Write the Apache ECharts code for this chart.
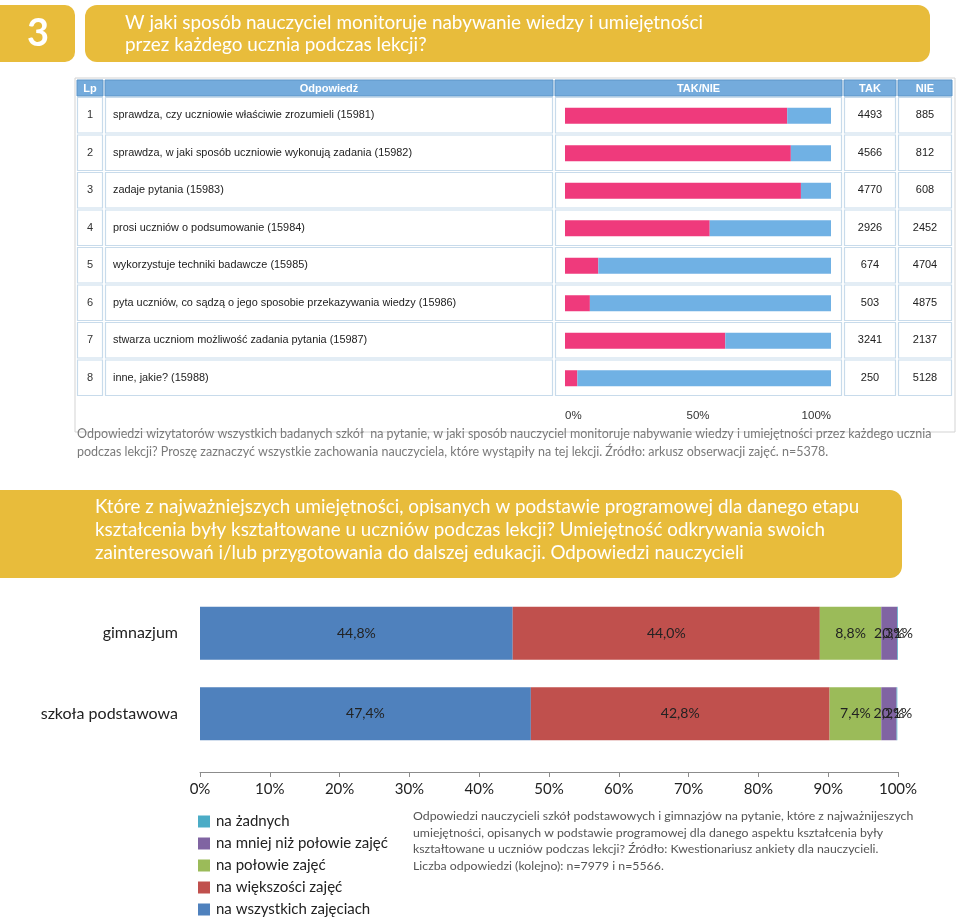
<!DOCTYPE html>
<html>
<head>
<meta charset="utf-8">
<script src="https://cdn.jsdelivr.net/npm/echarts@6/dist/echarts.min.js"></script>
<style>html,body{margin:0;padding:0;background:#fff;}#c{width:960px;height:919px;}</style>
</head>
<body>
<div id="c"></div>
<script>
// ---- data: table (top) ----
const rowNumbers = ['1','2','3','4','5','6','7','8'];
const rowLabels = [
  'sprawdza, czy uczniowie właściwie zrozumieli (15981)',
  'sprawdza, w jaki sposób uczniowie wykonują zadania (15982)',
  'zadaje pytania (15983)',
  'prosi uczniów o podsumowanie (15984)',
  'wykorzystuje techniki badawcze (15985)',
  'pyta uczniów, co sądzą o jego sposobie przekazywania wiedzy (15986)',
  'stwarza uczniom możliwość zadania pytania (15987)',
  'inne, jakie? (15988)'
];
const takValues = [4493, 4566, 4770, 2926, 674, 503, 3241, 250];
const nieValues = [885, 812, 608, 2452, 4704, 4875, 2137, 5128];
const takNieTicks = ['0%', '50%', '100%'];

// ---- data: stacked bar (bottom) ----
const schoolCategories = ['gimnazjum', 'szkoła podstawowa'];
const answerNames = ['na wszystkich zajęciach', 'na większości zajęć', 'na połowie zajęć', 'na mniej niż połowie zajęć', 'na żadnych'];
const gimnazjumValues = [44.8, 44.0, 8.8, 2.3, 0.1];
const podstawowaValues = [47.4, 42.8, 7.4, 2.2, 0.1];
const percentTicks = ['0%', '10%', '20%', '30%', '40%', '50%', '60%', '70%', '80%', '90%', '100%'];

const answerColors = ['#4f81bd', '#c0504d', '#9bbb59', '#8064a2', '#4bacc6'];
const YELLOW = '#e8bc3b';
const SANS = "Lato, 'Open Sans', sans-serif";
const TBL = "'Liberation Sans', Arial, sans-serif";

const chart = echarts.init(document.getElementById('c'), null, {renderer: 'canvas'});

// ---- table frame built as graphics ----
const g = [];
// header banner 1
g.push({type: 'rect', shape: {x: -12, y: 5, width: 87, height: 57, r: 10}, style: {fill: YELLOW}, z: 0});
g.push({type: 'text', style: {x: 38, y: 34, text: '3', fill: '#fff', font: 'bold 38px ' + SANS, textAlign: 'center', textVerticalAlign: 'middle'}, z: 1});
g.push({type: 'rect', shape: {x: 85, y: 5, width: 845, height: 57, r: 12}, style: {fill: YELLOW}, z: 0});
g.push({type: 'text', style: {x: 125, y: 34, text: 'W jaki sposób nauczyciel monitoruje nabywanie wiedzy i umiejętności\nprzez każdego ucznia podczas lekcji?', fill: '#fff', font: '18.9px ' + SANS, lineHeight: 22, textVerticalAlign: 'middle'}, z: 1});

// table outer frame
g.push({type: 'rect', shape: {x: 75, y: 78, width: 880, height: 354}, style: {fill: '#fff', stroke: '#d3d3d3', lineWidth: 1}, z: 0});
const cols = [
  {x: 77, w: 26, title: 'Lp'},
  {x: 105, w: 448, title: 'Odpowiedź'},
  {x: 555, w: 287, title: 'TAK/NIE'},
  {x: 844, w: 52, title: 'TAK'},
  {x: 898, w: 54, title: 'NIE'}
];
cols.forEach(c => {
  g.push({type: 'rect', shape: {x: c.x, y: 80, width: c.w, height: 16}, style: {fill: '#74abdc', stroke: '#5c95c8', lineWidth: 1}, z: 1});
  g.push({type: 'text', style: {x: c.x + c.w / 2, y: 88.5, text: c.title, fill: '#fff', font: 'bold 11px ' + TBL, textAlign: 'center', textVerticalAlign: 'middle'}, z: 2});
});
const ROW0 = 97, ROWH = 37.5;
rowNumbers.forEach((n, i) => {
  const y = ROW0 + i * ROWH;
  cols.forEach(c => {
    g.push({type: 'rect', shape: {x: c.x + 0.5, y: y + 0.5, width: c.w - 1, height: ROWH - 2}, style: {fill: '#fff', stroke: '#c8dbeb', lineWidth: 1.2}, z: 1});
  });
  const cy = y + ROWH / 2 - 0.5;
  g.push({type: 'text', style: {x: 90, y: cy, text: n, fill: '#333', font: '11px ' + TBL, textAlign: 'center', textVerticalAlign: 'middle'}, z: 2});
  g.push({type: 'text', style: {x: 113, y: cy, text: rowLabels[i], fill: '#222', font: '10.9px ' + TBL, textVerticalAlign: 'middle'}, z: 2});
  g.push({type: 'text', style: {x: 870, y: cy, text: String(takValues[i]), fill: '#222', font: '11px ' + TBL, textAlign: 'center', textVerticalAlign: 'middle'}, z: 2});
  g.push({type: 'text', style: {x: 925, y: cy, text: String(nieValues[i]), fill: '#222', font: '11px ' + TBL, textAlign: 'center', textVerticalAlign: 'middle'}, z: 2});
});

// caption 1
g.push({type: 'text', style: {x: 77, y: 443, text: 'Odpowiedzi wizytatorów wszystkich badanych szkół  na pytanie, w jaki sposób nauczyciel monitoruje nabywanie wiedzy i umiejętności przez każdego ucznia\npodczas lekcji? Proszę zaznaczyć wszystkie zachowania nauczyciela, które wystąpiły na tej lekcji. Źródło: arkusz obserwacji zajęć. n=5378.', fill: '#7a7a7a', font: '12.5px ' + SANS, lineHeight: 18, textVerticalAlign: 'middle'}, z: 1});

// header banner 2
g.push({type: 'rect', shape: {x: -12, y: 490, width: 914, height: 88, r: 12}, style: {fill: YELLOW}, z: 0});
g.push({type: 'text', style: {x: 95, y: 530, text: 'Które z najważniejszych umiejętności, opisanych w podstawie programowej dla danego etapu\nkształcenia były kształtowane u uczniów podczas lekcji? Umiejętność odkrywania swoich\nzainteresowań i/lub przygotowania do dalszej edukacji. Odpowiedzi nauczycieli', fill: '#fff', font: '18.8px ' + SANS, lineHeight: 23, textVerticalAlign: 'middle'}, z: 1});

// caption 2
g.push({type: 'text', style: {x: 413, y: 841, text: 'Odpowiedzi nauczycieli szkół podstawowych i gimnazjów na pytanie, które z najważnijeszych\numiejętności, opisanych w podstawie programowej dla danego aspektu kształcenia były\nkształtowane u uczniów podczas lekcji? Źródło: Kwestionariusz ankiety dla nauczycieli.\nLiczba odpowiedzi (kolejno): n=7979 i n=5566.', fill: '#555', font: '12.3px ' + SANS, lineHeight: 16.5, textVerticalAlign: 'middle'}, z: 1});

const takShare = takValues.map((t, i) => t / (t + nieValues[i]));
const nieShare = nieValues.map((n, i) => n / (takValues[i] + n));
const fmt = v => v.toFixed(1).replace('.', ',') + '%';

const bottomSeries = answerNames.map((name, k) => ({
  name: name,
  type: 'bar',
  stack: 'school',
  xAxisIndex: 1,
  yAxisIndex: 1,
  barWidth: 53,
  itemStyle: {color: answerColors[k]},
  label: {show: true, position: 'inside', formatter: p => fmt(p.value), color: '#222', fontSize: 14, fontFamily: SANS},
  emphasis: {disabled: true},
  data: [gimnazjumValues[k], podstawowaValues[k]]
}));

chart.setOption({
  animation: false,
  backgroundColor: '#fff',
  graphic: g,
  legend: {
    orient: 'vertical',
    left: 198,
    top: 814,
    height: 110,
    padding: 0,
    itemWidth: 12,
    itemHeight: 12,
    itemGap: 7,
    icon: 'rect',
    selectedMode: false,
    data: answerNames.slice().reverse(),
    textStyle: {fontSize: 15, fontFamily: SANS, color: '#222', lineHeight: 15, padding: [0, 0, 0, 1]}
  },
  grid: [
    {left: 565, width: 266, top: ROW0, height: ROWH * 8, containLabel: false},
    {left: 200, right: 62, top: 593, height: 161, containLabel: false}
  ],
  xAxis: [
    {gridIndex: 0, type: 'value', min: 0, max: 1, interval: 0.5,
     axisLine: {show: false}, axisTick: {show: false}, splitLine: {show: false},
     axisLabel: {formatter: (v) => takNieTicks[Math.round(v * 2)], margin: 13, fontSize: 11.5, fontFamily: TBL, color: '#333',
       alignMinLabel: 'left', alignMaxLabel: 'right'}},
    {gridIndex: 1, type: 'value', min: 0, max: 100, interval: 10, offset: 18,
     axisLine: {show: true, lineStyle: {color: '#8c8c8c'}},
     axisTick: {show: true, length: 5, lineStyle: {color: '#8c8c8c'}},
     splitLine: {show: false},
     axisLabel: {formatter: (v) => percentTicks[Math.round(v / 10)], margin: 10, fontSize: 15, fontFamily: SANS, color: '#222'}}
  ],
  yAxis: [
    {gridIndex: 0, type: 'category', inverse: true, data: rowNumbers, show: false},
    {gridIndex: 1, type: 'category', inverse: true, data: schoolCategories,
     axisLine: {show: false}, axisTick: {show: false},
     axisLabel: {margin: 22, fontSize: 16, fontFamily: SANS, color: '#222'}}
  ],
  series: [
    {name: 'TAK', type: 'bar', stack: 'tn', xAxisIndex: 0, yAxisIndex: 0, barWidth: 16,
     itemStyle: {color: '#ef3a7c'}, emphasis: {disabled: true}, data: takShare},
    {name: 'NIE', type: 'bar', stack: 'tn', xAxisIndex: 0, yAxisIndex: 0, barWidth: 16,
     itemStyle: {color: '#70b1e4'}, emphasis: {disabled: true}, data: nieShare}
  ].concat(bottomSeries)
});
</script>
</body>
</html>
